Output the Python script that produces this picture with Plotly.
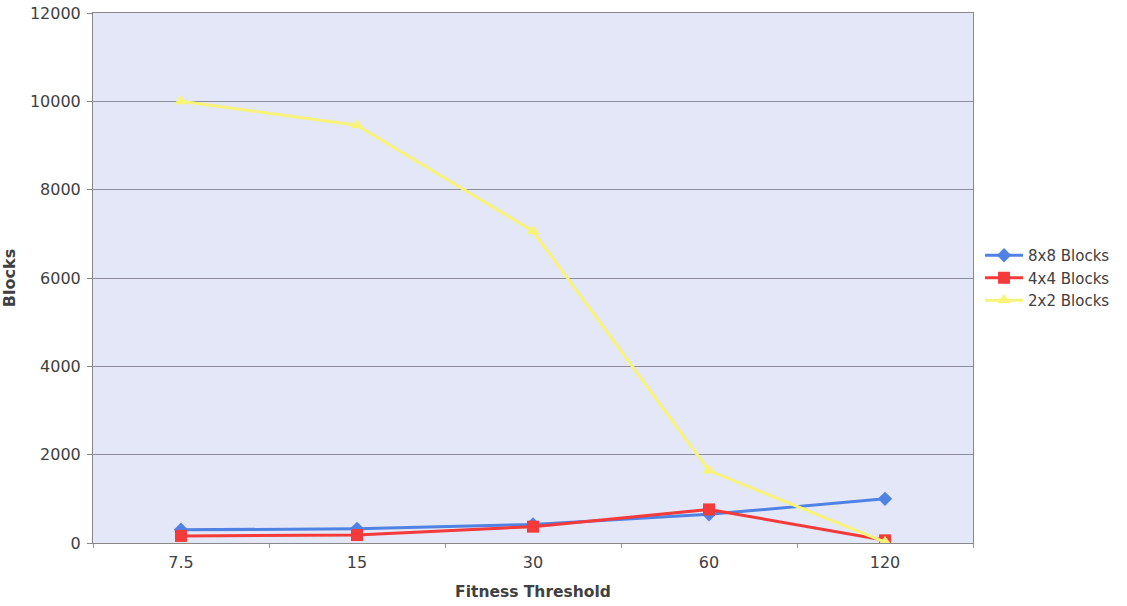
import plotly.graph_objects as go

thresholds = ["7.5", "15", "30", "60", "120"]
blocks_8x8 = [300, 320, 420, 650, 1000]
blocks_4x4 = [160, 180, 370, 760, 60]
blocks_2x2 = [10000, 9460, 7060, 1640, 20]

series = [
    ("8x8 Blocks", blocks_8x8, "#4F82E3", "diamond", 11),
    ("4x4 Blocks", blocks_4x4, "#F43A3A", "square", 12),
    ("2x2 Blocks", blocks_2x2, "#F8F47A", "triangle-up", 12),
]

fig = go.Figure()
for name, vals, color, symbol, size in series:
    fig.add_trace(go.Scatter(
        x=thresholds, y=vals, name=name, mode="lines+markers",
        line=dict(color=color, width=3),
        marker=dict(symbol=symbol, size=size, color=color),
    ))

font_family = "DejaVu Sans, Verdana, sans-serif"
text_color = "#404040"
fig.update_layout(
    width=1127, height=606,
    margin=dict(l=93, r=154, t=13, b=63),
    paper_bgcolor="white",
    plot_bgcolor="#E4E7F7",
    font=dict(family=font_family, size=15, color=text_color),
    legend=dict(x=1.008, y=0.5, yanchor="middle", xanchor="left",
                font=dict(size=15, color=text_color), bgcolor="rgba(0,0,0,0)",
                tracegroupgap=0, itemwidth=38),
    showlegend=True,
)
fig.update_xaxes(
    type="category", range=[-0.5, 4.5], automargin=False,
    title=dict(text="<b>Fitness Threshold</b>", font=dict(size=15.5), standoff=14),
    tickson="boundaries", ticks="outside", ticklen=4, tickcolor="#999999",
    ticklabelstandoff=5,
    showline=True, linecolor="#888888", linewidth=1, mirror=True,
    showgrid=False, tickfont=dict(size=16),
)
fig.update_yaxes(
    range=[0, 12000], dtick=2000, tickformat="d", automargin=False,
    title=dict(text="<b>Blocks</b>", font=dict(size=16), standoff=14),
    ticks="outside", ticklen=5, tickcolor="#888888",
    ticklabelstandoff=3,
    showline=True, linecolor="#888888", linewidth=1, mirror=True,
    showgrid=True, gridcolor="#8E8E9A", gridwidth=1,
    zeroline=False, tickfont=dict(size=16),
)

fig.write_html("out.html")
